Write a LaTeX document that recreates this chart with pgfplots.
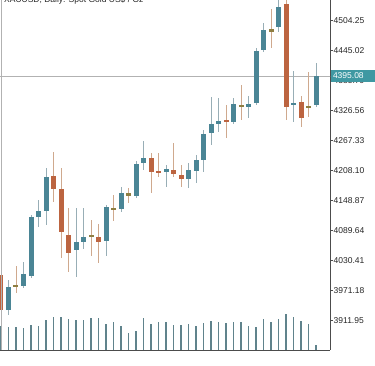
\documentclass[border=0pt]{standalone}
\usepackage{fontspec}
\setmainfont{Liberation Sans}
\usepackage{pgfplots}
\usepackage{pgfplotstable}
\pgfplotsset{compat=1.18}

\definecolor{bull}{HTML}{4A8595}
\definecolor{bullwick}{HTML}{98AEB6}
\definecolor{bear}{HTML}{BC6440}
\definecolor{bearwick}{HTML}{CFA98E}
\definecolor{doji}{HTML}{8E7E42}
\definecolor{vol}{HTML}{60838C}
\definecolor{pricebox}{HTML}{3F98A2}

\pgfplotstableread{
i o h l c
1 3933.06 3992.29 3923.18 3978.47
3 3980.44 4027.83 3976.49 4004.13
4 4000.19 4120.62 3996.24 4116.67
5 4116.67 4150.24 4096.93 4128.52
6 4128.52 4213.42 4100.88 4195.65
10 4051.52 4134.45 3998.21 4067.32
11 4067.32 4134.45 4053.50 4077.19
14 4069.29 4140.37 4039.67 4136.42
16 4132.47 4175.91 4126.55 4164.06
18 4158.14 4227.24 4154.19 4221.32
19 4223.29 4266.73 4209.47 4233.16
22 4205.52 4219.35 4175.91 4211.45
25 4191.70 4223.29 4173.93 4209.47
26 4207.50 4239.09 4183.80 4229.22
27 4229.22 4288.45 4205.52 4280.55
28 4282.52 4353.60 4258.83 4300.29
29 4300.29 4351.63 4284.50 4306.22
31 4304.24 4351.63 4300.29 4339.78
33 4333.86 4355.58 4312.14 4339.78
34 4341.76 4450.35 4337.81 4444.43
35 4446.40 4499.71 4442.45 4485.89
37 4491.81 4549.00 4481.94 4531.30
39 4337.81 4404.94 4304.24 4341.76
42 4337.81 4420.73 4333.86 4395.08
}\bulltab

\pgfplotstableread{
i o h l c
0 4002.16 4008.08 3927.13 3933.06
7 4197.63 4245.01 4146.29 4171.96
8 4171.96 4213.42 4035.72 4087.06
9 4081.14 4134.45 4008.08 4045.60
13 4077.19 4102.85 4025.85 4067.32
20 4233.16 4243.04 4164.06 4205.52
21 4207.50 4243.04 4195.65 4203.55
23 4209.47 4262.78 4195.65 4201.57
24 4199.60 4219.35 4175.91 4191.70
30 4308.19 4337.81 4272.65 4304.24
38 4537.22 4551.04 4308.19 4333.86
40 4343.73 4355.58 4294.37 4312.14
}\beartab

\pgfplotstableread{
i o h l c
2 3978.47 4019.93 3966.62 3982.42
12 4077.19 4110.75 4039.67 4081.14
15 4134.45 4160.11 4108.78 4130.50
17 4164.06 4173.93 4144.32 4158.14
32 4337.81 4377.30 4308.19 4333.86
36 4487.87 4527.35 4450.35 4481.94
41 4335.83 4402.96 4314.11 4331.88
}\dojitab

\pgfplotstableread{
i v
0 24
1 23.3
2 23.3
3 22.3
4 25
5 24.3
6 30
7 32.7
8 32.7
9 30.7
10 30
11 30
12 32.3
13 32.3
14 26
15 27.7
16 24.3
17 16.7
18 19.3
19 31.7
20 26
21 28.3
22 28.3
23 25
24 25
25 26
26 24.3
27 27.3
28 29.3
29 27.7
30 27.3
31 28
32 27.7
33 24.3
34 23
35 30.7
36 28
37 30.7
38 35.7
39 33.3
40 29.3
41 26.3
42 5
}\voltab

\newcommand{\lblfont}{\fontsize{8.5}{10}\selectfont}

\begin{document}
\begin{tikzpicture}[x=1pt,y=1pt]
\fill[white] (0,0) rectangle (375,366);
% volume
\begin{axis}[at={(0pt,16pt)}, anchor=south west, scale only axis,
  width=330pt, height=350pt,
  xmin=-0.1333, xmax=43.8667, ymin=0, ymax=350, hide axis]
\addplot[ycomb, draw=vol, line width=1.3pt, mark=none] table[x=i,y=v] \voltab;
\end{axis}
% price
\begin{axis}[at={(0pt,16pt)}, anchor=south west, scale only axis,
  width=330pt, height=350pt,
  xmin=-0.1333, xmax=43.8667, ymin=3854.08, ymax=4545.12,
  axis x line*=bottom, axis y line*=right,
  axis line style={draw=black!70, line width=0.6pt},
  tick align=outside, major tick length=3pt,
  tick style={draw=black!70, line width=0.5pt},
  ytick={3911.95,3971.18,4030.41,4089.64,4148.87,4208.10,4267.33,4326.56,4385.79,4445.02,4504.25},
  yticklabels={3911.95,3971.18,4030.41,4089.64,4148.87,4208.10,4267.33,4326.56,4385.79,4445.02,4504.25},
  yticklabel style={font=\lblfont, anchor=west, inner xsep=0.5pt, text=black!85},
  xtick={0,8,17,24,32,40},
  xticklabels={4 Nov 2025,14 Nov 2025,26 Nov 2025,8 Dec 2025,18 Dec 2025,31 Dec 2025},
  xmajorticks=false,
  xticklabel style={font=\lblfont, anchor=north west, inner xsep=0pt, inner ysep=2pt, text=black!85},
]
\addplot[draw=black!30, line width=0.5pt, forget plot] coordinates {(-1,4395.08) (45,4395.08)};
% wicks
\addplot[draw=none, mark=none, forget plot, error bars/.cd, y dir=both, y explicit, error mark=none,
  error bar style={draw=bullwick, line width=0.9pt}]
  table[x=i, y expr={(\thisrow{h}+\thisrow{l})/2}, y error expr={(\thisrow{h}-\thisrow{l})/2}] \bulltab;
\addplot[draw=none, mark=none, forget plot, error bars/.cd, y dir=both, y explicit, error mark=none,
  error bar style={draw=bearwick, line width=0.9pt}]
  table[x=i, y expr={(\thisrow{h}+\thisrow{l})/2}, y error expr={(\thisrow{h}-\thisrow{l})/2}] \beartab;
\addplot[draw=none, mark=none, forget plot, error bars/.cd, y dir=both, y explicit, error mark=none,
  error bar style={draw=bearwick, line width=0.9pt}]
  table[x=i, y expr={(\thisrow{h}+\thisrow{l})/2}, y error expr={(\thisrow{h}-\thisrow{l})/2}] \dojitab;
% bodies
\addplot[draw=none, mark=none, forget plot, error bars/.cd, y dir=both, y explicit, error mark=none,
  error bar style={draw=bull, line width=5pt}]
  table[x=i, y expr={(\thisrow{o}+\thisrow{c})/2}, y error expr={abs(\thisrow{c}-\thisrow{o})/2}] \bulltab;
\addplot[draw=none, mark=none, forget plot, error bars/.cd, y dir=both, y explicit, error mark=none,
  error bar style={draw=bear, line width=5pt}]
  table[x=i, y expr={(\thisrow{o}+\thisrow{c})/2}, y error expr={abs(\thisrow{c}-\thisrow{o})/2}] \beartab;
\addplot[draw=none, mark=none, forget plot, error bars/.cd, y dir=both, y explicit, error mark=none,
  error bar style={draw=doji, line width=5pt}]
  table[x=i, y expr={(\thisrow{o}+\thisrow{c})/2}, y error expr={abs(\thisrow{c}-\thisrow{o})/2}] \dojitab;
\coordinate (pl) at (axis cs:43.8667,4395.08);
\end{axis}
\draw[black!30, line width=0.5pt] (1.5,16) -- (1.5,366);
\node[fill=pricebox, text=white, font=\lblfont, anchor=west, inner xsep=2pt, inner ysep=0pt,
  minimum height=12pt, text width=41pt] at ([xshift=0.8pt]pl) {4395.08};
\node[anchor=base west, font=\lblfont, inner sep=0pt, text=black!85] at (4,363.5) {XAUUSD, Daily: Spot Gold US\$ / Oz};
\pgfresetboundingbox
\path[use as bounding box] (0,0) rectangle (375,366);
\end{tikzpicture}
\end{document}
